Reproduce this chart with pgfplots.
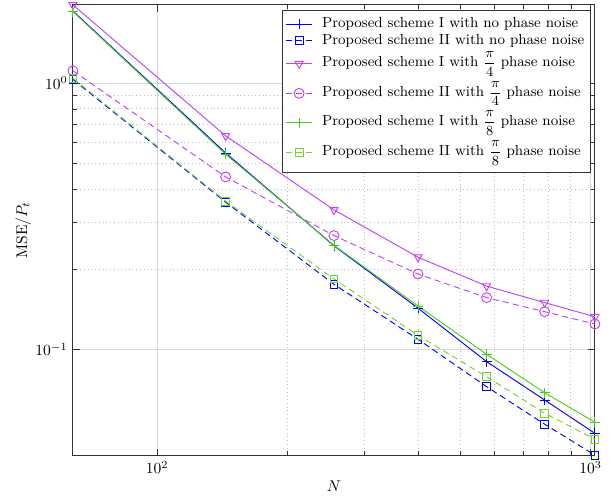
\documentclass[border=0pt]{standalone}
\usepackage{pgfplots}
\pgfplotsset{compat=1.18}
\definecolor{cblue}{RGB}{0,0,255}
\definecolor{cpurp}{RGB}{191,64,255}
\definecolor{cgreen}{RGB}{77,204,26}
\definecolor{cgreenl}{RGB}{110,214,50}
\begin{document}
\begin{tikzpicture}
\begin{loglogaxis}[
  scale only axis,
  width=337pt, height=291pt,
  xmin=64, xmax=1024,
  ymin=0.04, ymax=1.96,
  xtick={100,1000},
  ytick={0.1,1},
  grid=both,
  major grid style={line width=0.4pt, draw=black!15},
  minor grid style={line width=0.4pt, draw=black!25, dotted},
  axis line style={line width=0.6pt, draw=black!80},
  tick style={draw=black!80},
  xlabel={$N$},
  ylabel={$\mathrm{MSE}/P_t$},
  xlabel style={yshift=2pt},
  ylabel style={yshift=-4pt},
  clip=false,
  legend cell align=left,
  legend style={draw=black!80, text=black, line width=0.5pt, inner sep=2pt, at={(0.992,0.988)}, anchor=north east,
    font=\fontsize{9.4}{11}\selectfont, row sep=-2.9pt,
    /tikz/every odd column/.append style={column sep=4pt}},
  every axis plot/.append style={line width=0.6pt},
]
\addplot[cblue, mark=+, mark size=3.3pt, legend image post style={draw=cblue}] coordinates {
 (64,1.86) (144,0.546) (256,0.245) (400,0.143) (576,0.0901) (784,0.0647) (1024,0.0485)};
\addlegendentry[text height=7pt, text depth=2.5pt]{Proposed scheme I with no phase noise}
\addplot[cblue, dashed, dash pattern=on 4pt off 2.6pt, mark=square, mark size=2.5pt, mark options={solid}, legend image post style={draw=cblue}] coordinates {
 (64,1.03) (144,0.357) (256,0.1757) (400,0.1093) (576,0.0726) (784,0.0525) (1024,0.0402)};
\addlegendentry[text height=7pt, text depth=2.5pt]{Proposed scheme II with no phase noise}
\addplot[cpurp, mark=triangle, mark size=3pt, mark options={solid, rotate=180}, legend image post style={draw=cpurp}] coordinates {
 (64,1.96) (144,0.633) (256,0.334) (400,0.222) (576,0.173) (784,0.150) (1024,0.1328)};
\addlegendentry[text height=11pt, text depth=7pt]{Proposed scheme I with $\displaystyle\frac{\pi}{4}$ phase noise}
\addplot[cpurp, dashed, dash pattern=on 4pt off 2.6pt, mark=o, mark size=3.2pt, mark options={solid}, legend image post style={draw=cpurp}] coordinates {
 (64,1.11) (144,0.444) (256,0.2675) (400,0.192) (576,0.1566) (784,0.1387) (1024,0.1247)};
\addlegendentry[text height=11pt, text depth=7pt]{Proposed scheme II with $\displaystyle\frac{\pi}{4}$ phase noise}
\addplot[cgreen, mark=+, mark size=3.3pt, legend image post style={draw=cgreen}] coordinates {
 (64,1.85) (144,0.54) (256,0.246) (400,0.1457) (576,0.096) (784,0.0689) (1024,0.0534)};
\addlegendentry[text height=11pt, text depth=7pt]{Proposed scheme I with $\displaystyle\frac{\pi}{8}$ phase noise}
\addplot[cgreenl, dashed, dash pattern=on 4pt off 2.6pt, mark=square, mark size=2.5pt, mark options={solid}, legend image post style={draw=cgreenl}] coordinates {
 (64,1.04) (144,0.36) (256,0.184) (400,0.1131) (576,0.0791) (784,0.0577) (1024,0.0461)};
\addlegendentry[text height=11pt, text depth=7pt]{Proposed scheme II with $\displaystyle\frac{\pi}{8}$ phase noise}
\end{loglogaxis}
\path (current axis.south west) ++(-47.1pt,-26.5pt);
\path (current axis.north east) ++(12.3pt,3.2pt);
\end{tikzpicture}
\end{document}
